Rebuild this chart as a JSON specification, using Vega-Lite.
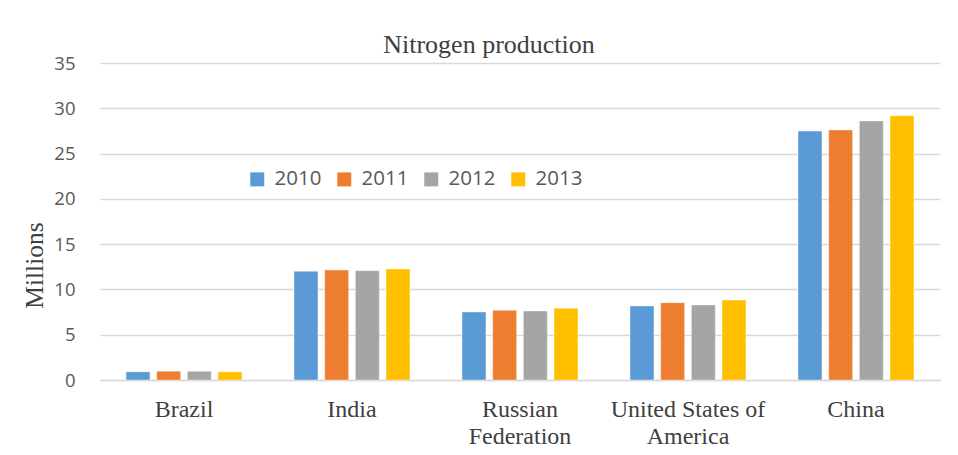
{
  "$schema": "https://vega.github.io/schema/vega-lite/v6.json",
  "width": 840,
  "height": 317,
  "autosize": {"type": "none"},
  "padding": {"left": 100, "top": 63, "right": 18, "bottom": 75},
  "background": "white",
  "title": {
    "text": "Nitrogen production",
    "font": "Liberation Serif",
    "fontSize": 26,
    "fontWeight": "normal",
    "color": "#404040",
    "anchor": "middle",
    "dx": -31,
    "offset": -4
  },
  "data": {
    "values": [
      {"country": "Brazil", "year": "2010", "value": 0.9},
      {"country": "Brazil", "year": "2011", "value": 0.97},
      {"country": "Brazil", "year": "2012", "value": 0.96},
      {"country": "Brazil", "year": "2013", "value": 0.9},
      {"country": "India", "year": "2010", "value": 12.0},
      {"country": "India", "year": "2011", "value": 12.14},
      {"country": "India", "year": "2012", "value": 12.07},
      {"country": "India", "year": "2013", "value": 12.25},
      {"country": "Russian Federation", "year": "2010", "value": 7.5},
      {"country": "Russian Federation", "year": "2011", "value": 7.69},
      {"country": "Russian Federation", "year": "2012", "value": 7.62},
      {"country": "Russian Federation", "year": "2013", "value": 7.91},
      {"country": "United States of America", "year": "2010", "value": 8.17},
      {"country": "United States of America", "year": "2011", "value": 8.53},
      {"country": "United States of America", "year": "2012", "value": 8.28},
      {"country": "United States of America", "year": "2013", "value": 8.83},
      {"country": "China", "year": "2010", "value": 27.48},
      {"country": "China", "year": "2011", "value": 27.6},
      {"country": "China", "year": "2012", "value": 28.6},
      {"country": "China", "year": "2013", "value": 29.17}
    ]
  },
  "mark": {"type": "bar", "strokeWidth": 1, "strokeOpacity": 0.35, "stroke": "white"},
  "encoding": {
    "x": {
      "field": "country",
      "type": "nominal",
      "sort": ["Brazil", "India", "Russian Federation", "United States of America", "China"],
      "scale": {"paddingInner": 0.31, "paddingOuter": 0.155},
      "axis": {
        "title": null,
        "labelAngle": 0,
        "labelFont": "Liberation Serif",
        "labelFontSize": 24,
        "labelColor": "#404040",
        "labelPadding": 17,
        "labelLineHeight": 27,
        "labelBaseline": "top",
        "ticks": false,
        "domainColor": "#D9D9D9",
        "domainWidth": 1.5,
        "labelExpr": "datum.label == 'Russian Federation' ? ['Russian', 'Federation'] : datum.label == 'United States of America' ? ['United States of', 'America'] : datum.label"
      }
    },
    "xOffset": {
      "field": "year",
      "type": "nominal",
      "scale": {"paddingInner": 0.22, "paddingOuter": 0}
    },
    "y": {
      "field": "value",
      "type": "quantitative",
      "scale": {"domain": [0, 35]},
      "axis": {
        "title": "Millions",
        "titleFont": "Liberation Serif",
        "titleFontSize": 25.5,
        "titleFontWeight": "normal",
        "titleColor": "#404040",
        "titleX": -65.5,
        "titleY": 202,
        "titleAngle": -90,
        "titleAlign": "center",
        "titleBaseline": "middle",
        "values": [0, 5, 10, 15, 20, 25, 30, 35],
        "labelFont": "Open Sans",
        "labelFontSize": 18.5,
        "labelColor": "#595959",
        "labelPadding": 25,
        "ticks": false,
        "domain": false,
        "gridColor": "#D9D9D9",
        "gridWidth": 1.5
      }
    },
    "color": {
      "field": "year",
      "type": "nominal",
      "scale": {"range": ["#5B9BD5", "#ED7D31", "#A5A5A5", "#FFC000"]},
      "legend": {
        "title": null,
        "orient": "none",
        "direction": "horizontal",
        "legendX": 147,
        "legendY": 106,
        "symbolType": "square",
        "symbolSize": 196,
        "symbolStrokeWidth": 0,
        "labelFont": "Open Sans",
        "labelFontSize": 20.5,
        "labelColor": "#595959",
        "labelOffset": 7,
        "columnPadding": 12
      }
    }
  },
  "config": {
    "view": {"stroke": null}
  }
}
